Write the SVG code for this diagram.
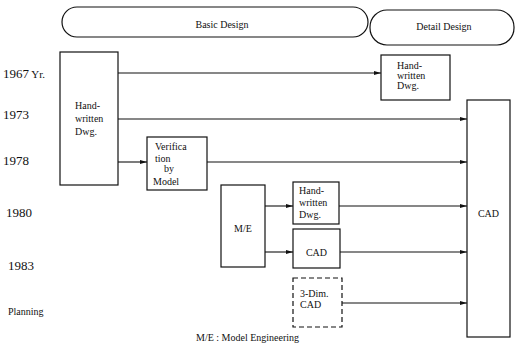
<svg xmlns="http://www.w3.org/2000/svg" width="517" height="347" viewBox="0 0 517 347">
<style>
.b{fill:#fff;stroke:#111;stroke-width:1.2}
.d{fill:#fff;stroke:#111;stroke-width:1.2;stroke-dasharray:5,3}
.t{font-family:"Liberation Serif","Times New Roman",serif;font-size:10px;fill:#111}
.y{font-family:"Liberation Serif","Times New Roman",serif;font-size:13px;fill:#111}
.c{stroke:#111;stroke-width:1.1;fill:none;marker-end:url(#a)}
</style>
<defs>
<marker id="a" markerWidth="7" markerHeight="6" refX="7" refY="3" orient="auto" markerUnits="userSpaceOnUse">
<path d="M0,1 L7,3 L0,5 Z" fill="#111"/>
</marker>
</defs>
<g id="phase-basic">
<rect class="b" x="62" y="7" width="306" height="30" rx="15"/>
<text class="t" x="222" y="28" text-anchor="middle">Basic Design</text>
</g>
<g id="phase-detail">
<rect class="b" x="370" y="10" width="144" height="35" rx="17"/>
<text class="t" x="444" y="30" text-anchor="middle">Detail Design</text>
</g>
<g id="years">
<text class="y" x="3" y="78">1967<tspan font-size="11"> Yr.</tspan></text>
<text class="y" x="3" y="119">1973</text>
<text class="y" x="3" y="165">1978</text>
<text class="y" x="6" y="217">1980</text>
<text class="y" x="8" y="270">1983</text>
<text class="t" x="8" y="315">Planning</text>
</g>
<g id="connectors">
<line class="c" x1="118" y1="73" x2="381" y2="73"/>
<line class="c" x1="118" y1="119" x2="467" y2="119"/>
<line class="c" x1="118" y1="162" x2="147" y2="162"/>
<line class="c" x1="207" y1="162" x2="467" y2="162"/>
<line class="c" x1="265" y1="206" x2="293" y2="206"/>
<line class="c" x1="339" y1="206" x2="467" y2="206"/>
<line class="c" x1="265" y1="252" x2="293" y2="252"/>
<line class="c" x1="340" y1="252" x2="467" y2="252"/>
<line class="c" x1="342" y1="303" x2="467" y2="303"/>
</g>
<g id="n-handwritten-left">
<rect class="b" x="60" y="52" width="58" height="133"/>
<text class="t" x="75" y="109">Hand-</text>
<text class="t" x="75" y="122">written</text>
<text class="t" x="75" y="135">Dwg.</text>
</g>
<g id="n-handwritten-top">
<rect class="b" x="381" y="55" width="69" height="45"/>
<text class="t" x="397" y="69">Hand-</text>
<text class="t" x="397" y="79">written</text>
<text class="t" x="397" y="89">Dwg.</text>
</g>
<g id="n-cad-right">
<rect class="b" x="467" y="100" width="43" height="237"/>
<text class="t" x="488.5" y="217" text-anchor="middle">CAD</text>
</g>
<g id="n-verification">
<rect class="b" x="147" y="137" width="60" height="53"/>
<text class="t" x="155" y="150">Verifica</text>
<text class="t" x="155" y="162">tion</text>
<text class="t" x="164" y="172">by</text>
<text class="t" x="153" y="185">Model</text>
</g>
<g id="n-me">
<rect class="b" x="221" y="185" width="44" height="82"/>
<text class="t" x="243" y="232" text-anchor="middle">M/E</text>
</g>
<g id="n-handwritten-mid">
<rect class="b" x="293" y="182" width="46" height="42"/>
<text class="t" x="299" y="194">Hand-</text>
<text class="t" x="299" y="206">written</text>
<text class="t" x="299" y="218">Dwg.</text>
</g>
<g id="n-cad-mid">
<rect class="b" x="293" y="229" width="47" height="39"/>
<text class="t" x="316.5" y="256" text-anchor="middle">CAD</text>
</g>
<g id="n-3dim-cad">
<rect class="d" x="293" y="278" width="49" height="49"/>
<text class="t" x="300" y="297">3-Dim.</text>
<text class="t" x="300" y="308">CAD</text>
</g>
<g id="legend">
<text class="t" x="196" y="341">M/E : Model Engineering</text>
</g>
</svg>
